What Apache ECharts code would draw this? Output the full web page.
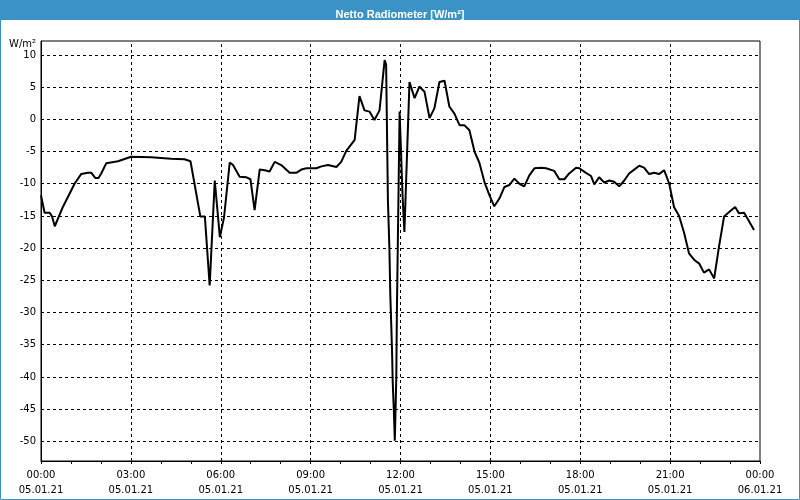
<!DOCTYPE html>
<html>
<head>
<meta charset="utf-8">
<script src="https://cdn.jsdelivr.net/npm/echarts@6/dist/echarts.min.js"></script>
<style>
html,body{margin:0;padding:0;background:#fff;}
#c{width:800px;height:500px;}
</style>
</head>
<body>
<div id="c"></div>
<script>
const titleText = 'Netto Radiometer [W/m²]';
const unitLabel = 'W/m²';
// hours since 05.01.21 00:00
const hours = [0.00,0.12,0.29,0.37,0.46,0.73,1.12,1.34,1.57,1.68,1.81,1.92,2.01,2.18,2.57,3.01,3.68,4.34,4.79,4.99,
5.32,5.47,5.63,5.80,5.97,6.11,6.30,6.41,6.63,6.86,6.99,7.13,7.30,7.47,7.63,7.80,8.02,8.30,8.52,8.69,8.86,9.19,9.36,9.58,9.86,
10.02,10.19,10.47,10.63,10.80,10.97,11.13,11.30,11.47,11.52,11.58,11.63,11.66,11.69,11.72,11.74,11.78,11.81,11.86,11.88,11.91,11.94,11.97,
12.07,12.13,12.30,12.47,12.63,12.80,12.97,13.13,13.30,13.47,13.63,13.80,13.97,14.13,14.30,14.47,14.63,14.80,14.97,
15.13,15.30,15.47,15.63,15.80,15.97,16.13,16.30,16.47,16.69,16.86,17.13,17.30,17.47,17.63,17.86,17.97,18.19,18.36,18.47,18.63,18.80,18.97,
19.13,19.30,19.47,19.63,19.80,19.97,20.13,20.30,20.47,20.63,20.80,20.97,21.13,21.30,21.47,21.63,21.80,21.97,22.13,22.30,22.47,22.63,22.80,22.97,
23.17,23.30,23.47,23.63,23.80];
const values = [-11.8,-14.5,-14.5,-15.1,-16.6,-13.6,-10.0,-8.5,-8.3,-8.3,-9.1,-9.1,-8.4,-6.8,-6.5,-5.8,-5.9,-6.1,-6.2,-6.5,
-15.1,-15.1,-25.8,-9.5,-18.3,-15.2,-6.7,-7.1,-8.9,-9.0,-9.3,-14.1,-7.8,-7.9,-8.1,-6.6,-7.1,-8.3,-8.3,-7.8,-7.6,-7.6,-7.3,-7.1,-7.4,
-6.6,-4.9,-3.2,3.6,1.4,1.2,-0.1,1.4,9.2,8.5,-12.6,-20.1,-27.3,-31.7,-36.4,-40.8,-45.5,-49.9,-40.0,-29.7,-19.5,-9.4,1.2,
-12.0,-17.5,5.8,3.3,5.1,4.3,0.2,1.7,5.8,6.0,2.0,0.9,-0.9,-0.9,-1.7,-5.0,-6.7,-9.7,-11.8,
-13.5,-12.3,-10.5,-10.2,-9.2,-10.0,-10.4,-8.7,-7.6,-7.5,-7.6,-8.0,-9.3,-9.3,-8.4,-7.5,-7.6,-8.3,-8.8,-10.1,-9.0,-9.8,-9.5,
-9.7,-10.4,-9.5,-8.4,-7.8,-7.2,-7.5,-8.5,-8.3,-8.5,-7.9,-10.0,-13.6,-15.0,-17.7,-20.8,-21.8,-22.4,-23.8,-23.3,-24.7,-19.8,-15.1,-14.4,
-13.6,-14.6,-14.5,-15.8,-17.2];
const yTicks = [-50,-45,-40,-35,-30,-25,-20,-15,-10,-5,0,5,10];
const xTickHours = [0,3,6,9,12,15,18,21,24];
const xTickTimes = ['00:00','03:00','06:00','09:00','12:00','15:00','18:00','21:00','00:00'];
const xTickDates = ['05.01.21','05.01.21','05.01.21','05.01.21','05.01.21','05.01.21','05.01.21','05.01.21','06.01.21'];

const data = hours.map((h, i) => [h, values[i]]);
const font = 'DejaVu Sans';
const chart = echarts.init(document.getElementById('c'), null, {renderer: 'canvas'});
chart.setOption({
  animation: false,
  backgroundColor: '#ffffff',
  title: {
    text: titleText, left: 'center', top: 4,
    textStyle: {color: '#ffffff', fontFamily: 'Liberation Sans', fontWeight: 'bold', fontSize: 11}
  },
  graphic: [
    {type: 'rect', z: -10, shape: {x: 0, y: 0, width: 800, height: 20}, style: {fill: '#3b92c4'}},
    {type: 'rect', z: 100, silent: true, shape: {x: 0.5, y: 0.5, width: 799, height: 499}, style: {fill: 'none', stroke: '#3b92c4', lineWidth: 1}},
    {type: 'text', left: 9, top: 39, style: {text: unitLabel, fill: '#000', font: '10px "DejaVu Sans"'}}
  ],
  grid: {left: 41, right: 40, top: 41, bottom: 39, show: true, borderColor: '#000', borderWidth: 1, backgroundColor: 'transparent'},
  xAxis: {
    type: 'value', min: 0, max: 24, interval: 1,
    axisLine: {onZero: false, lineStyle: {color: '#000', width: 1}},
    axisTick: {show: true, length: 3, lineStyle: {color: '#000'}},
    splitLine: {show: false},
    minorSplitLine: {show: false},
    splitArea: {show: false},
    axisLabel: {
      color: '#000', fontFamily: font, fontSize: 10, lineHeight: 15, margin: 7,
      showMinLabel: true, showMaxLabel: true, hideOverlap: false, interval: 0,
      formatter: function (v) {
        const i = xTickHours.indexOf(v);
        return i < 0 ? '' : xTickTimes[i] + '\n' + xTickDates[i];
      }
    }
  },
  yAxis: {
    type: 'value', min: -53.06, max: 12.17,
    axisLine: {show: true, onZero: false, lineStyle: {color: '#000', width: 1}},
    axisTick: {show: false, customValues: yTicks},
    splitLine: {show: true, lineStyle: {color: '#000', type: [3, 3], width: 1}},
    axisLabel: {color: '#000', fontFamily: font, fontSize: 10, margin: 5, customValues: yTicks}
  },
  series: [{
    type: 'line', data: data, showSymbol: false, symbol: 'none',
    lineStyle: {color: '#000', width: 2}, z: 5,
    markLine: {
      silent: true, symbol: ['none', 'none'], label: {show: false}, animation: false,
      lineStyle: {color: '#000', type: [3, 3], width: 1},
      data: xTickHours.slice(1, -1).map(h => ({xAxis: h}))
    }
  }]
});
</script>
</body>
</html>
